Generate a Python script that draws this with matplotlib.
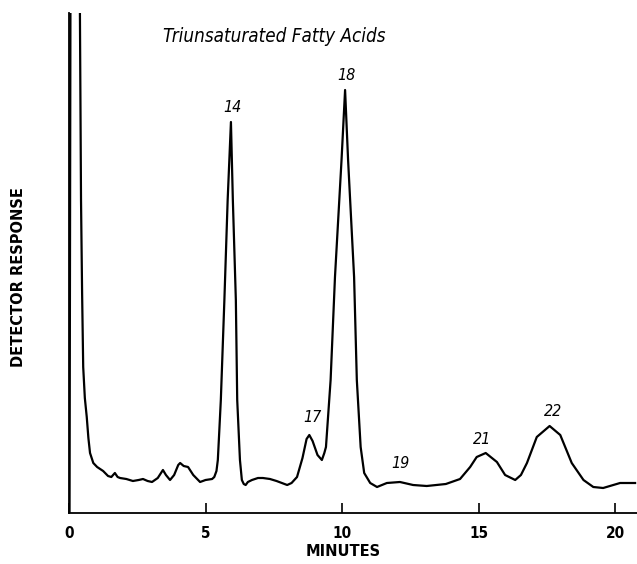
import matplotlib
matplotlib.use("Agg")
import matplotlib.pyplot as plt

# Chromatogram trace (minutes, detector response in arbitrary units)
minutes = [0.02, 0.06, 0.37, 0.40, 0.44, 0.48, 0.52, 0.58, 0.65, 0.71, 0.77, 0.89,
           1.03, 1.25, 1.43, 1.55, 1.68, 1.78, 1.87, 2.10, 2.34, 2.55, 2.71, 2.88,
           3.04, 3.25, 3.44, 3.55, 3.70, 3.85, 4.00, 4.07, 4.20, 4.36, 4.55, 4.80,
           5.00, 5.24, 5.32, 5.40, 5.45, 5.50, 5.56, 5.69, 5.81, 5.93, 6.00, 6.11,
           6.16, 6.26, 6.33, 6.40, 6.47, 6.55, 6.70, 6.92, 7.10, 7.36, 7.60, 7.99,
           8.15, 8.35, 8.55, 8.70, 8.80, 8.92, 9.10, 9.26, 9.35, 9.41, 9.58, 9.74,
           9.98, 10.11, 10.22, 10.44, 10.54, 10.68, 10.81, 11.03, 11.28, 11.64, 12.12, 12.60,
           13.10, 13.80, 14.32, 14.69, 14.93, 15.26, 15.67, 15.97, 16.34, 16.55, 16.77, 17.13,
           17.60, 17.99, 18.41, 18.84, 19.20, 19.56, 20.18, 20.73]
response = [0, 620, 620, 500, 313, 220, 146, 115, 96, 75, 60, 50,
            46, 42, 37, 36, 40, 36, 35, 34, 32, 33, 34, 32,
            31, 35, 43, 38, 33, 38, 48, 50, 47, 46, 38, 31,
            33, 34, 36, 42, 53, 80, 113, 213, 313, 391, 313, 213,
            113, 53, 33, 29, 28, 31, 33, 35, 35, 34, 32, 28,
            30, 36, 55, 74, 78, 72, 58, 53, 60, 66, 133, 236,
            353, 423, 353, 236, 133, 66, 40, 30, 26, 30, 31, 28,
            27, 29, 34, 46, 56, 60, 51, 38, 33, 38, 50, 76,
            87, 78, 50, 33, 26, 25, 30, 30]

peak_labels = ["14", "17", "18", "19", "21", "22"]
label_x = [5.97, 8.90, 10.15, 12.12, 15.13, 17.73]
label_y = [406, 96, 438, 49, 74, 101]

x_ticks = [0, 5, 10, 15, 20]
title_text = "Triunsaturated Fatty Acids"

fig = plt.figure(figsize=(6.37, 5.64), dpi=100)
ax = fig.add_axes([69 / 637, 1 - 513 / 564, 1 - 69 / 637, 500 / 564])
ax.plot(minutes, response, color="black", lw=1.6, solid_joinstyle="round")
ax.set_xlim(0, 20.8)
ax.set_ylim(0, 500)

for s in ["top", "right"]:
    ax.spines[s].set_visible(False)
for s in ["left", "bottom"]:
    ax.spines[s].set_linewidth(1.3)

ax.set_yticks([])
ax.set_xticks(x_ticks)
ax.set_xticklabels([str(t) for t in x_ticks], fontsize=11, fontweight="bold",
                   fontstretch="condensed")
ax.tick_params(axis="x", direction="in", length=7, width=1.2, pad=9)

for lab, lx, ly in zip(peak_labels, label_x, label_y):
    ax.text(lx, ly, lab, fontsize=11.5, style="italic", ha="center", va="center",
            fontstretch="condensed")

ax.text(7.5, 476, title_text, fontsize=13.5, style="italic", ha="center", va="center",
        fontstretch="condensed")

fig.text(19 / 637, 1 - 277 / 564, "DETECTOR RESPONSE", rotation=90, fontsize=10.5,
         fontweight="bold", ha="center", va="center")
fig.text(343 / 637, 1 - 551 / 564, "MINUTES", fontsize=10.5, fontweight="bold",
         ha="center", va="center")

fig.savefig("out.png", dpi=100, facecolor="white")
